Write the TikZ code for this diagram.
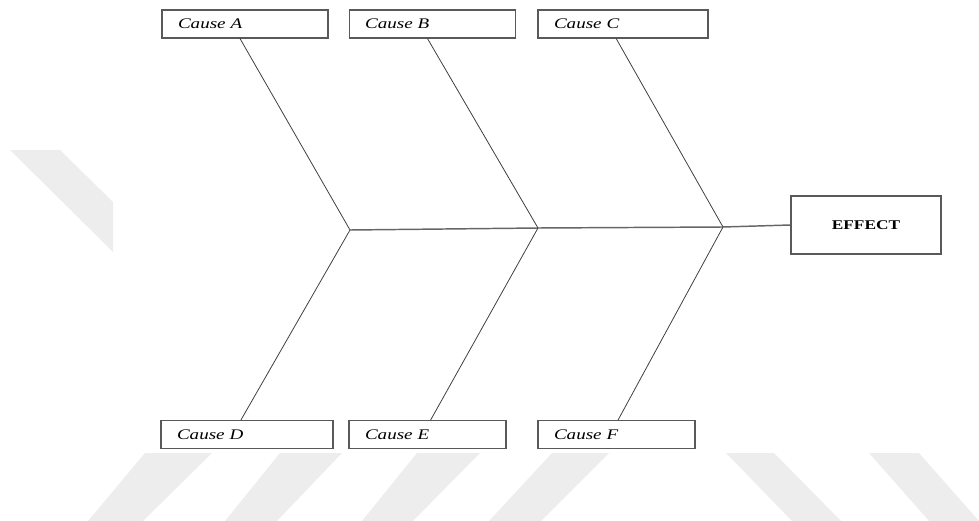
\documentclass[tikz,border=0pt]{standalone}
\usepackage{fontspec}
\setmainfont{Liberation Serif}
\newfontfamily\widefont[FakeStretch=1.3]{Liberation Serif}
\usetikzlibrary{calc}

\tikzset{
    causebox/.style={draw=black!65,line width=0.8pt,minimum height=21pt,inner xsep=12pt,
        align=left,text width=#1,font=\widefont\itshape\fontsize{11}{12}\selectfont},
    bone/.style={black!75,line width=0.6pt},
    spine/.style={black!60,line width=1.1pt},
    stripe/.style={black!7}
}

\begin{document}
\begin{tikzpicture}[x=0.75pt,y=-0.75pt]
    \useasboundingbox (0,0) rectangle (979,521);
    % watermark stripes
    \fill[stripe] (10,150) -- (60,150) -- (113,202) -- (113,252) -- cycle;
    \foreach \a/\b/\c/\d in {145/212/88/143, 280/342/225/277, 417/480/362/413, 552/609/489/541, 726/774/792/841, 869/919/929/979}
        \fill[stripe] (\a,453) -- (\b,453) -- (\d,521) -- (\c,521) -- cycle;
    % causes and effect
    \node[causebox=100.5pt] (A) at (245,24) {Cause A};
    \node[causebox=101pt]   (B) at (432.5,24) {Cause B};
    \node[causebox=103.5pt] (C) at (623,24) {Cause C};
    \node[causebox=105pt]   (D) at (247,434.5) {Cause D};
    \node[causebox=93.75pt] (E) at (427.5,434.5) {Cause E};
    \node[causebox=93.75pt] (F) at (616.5,434.5) {Cause F};
    \node[draw=black!65,line width=0.8pt,minimum width=112.5pt,minimum height=43.5pt,
        font=\widefont\bfseries\fontsize{10}{12}\selectfont] (eff) at (866,225) {EFFECT};
    \coordinate (jA) at (350,230);
    \coordinate (jB) at (538,228);
    \coordinate (jC) at (723,227);
    % bones
    \draw[spine] (jA) -- (jB) -- (jC) -- (eff.west);
    \draw[bone] ($(A.south west)!0.47!(A.south east)$) -- (jA) -- ($(D.north west)!0.465!(D.north east)$);
    \draw[bone] ($(B.south west)!0.47!(B.south east)$) -- (jB) -- ($(E.north west)!0.52!(E.north east)$);
    \draw[bone] ($(C.south west)!0.46!(C.south east)$) -- (jC) -- ($(F.north west)!0.51!(F.north east)$);
\end{tikzpicture}
\end{document}
